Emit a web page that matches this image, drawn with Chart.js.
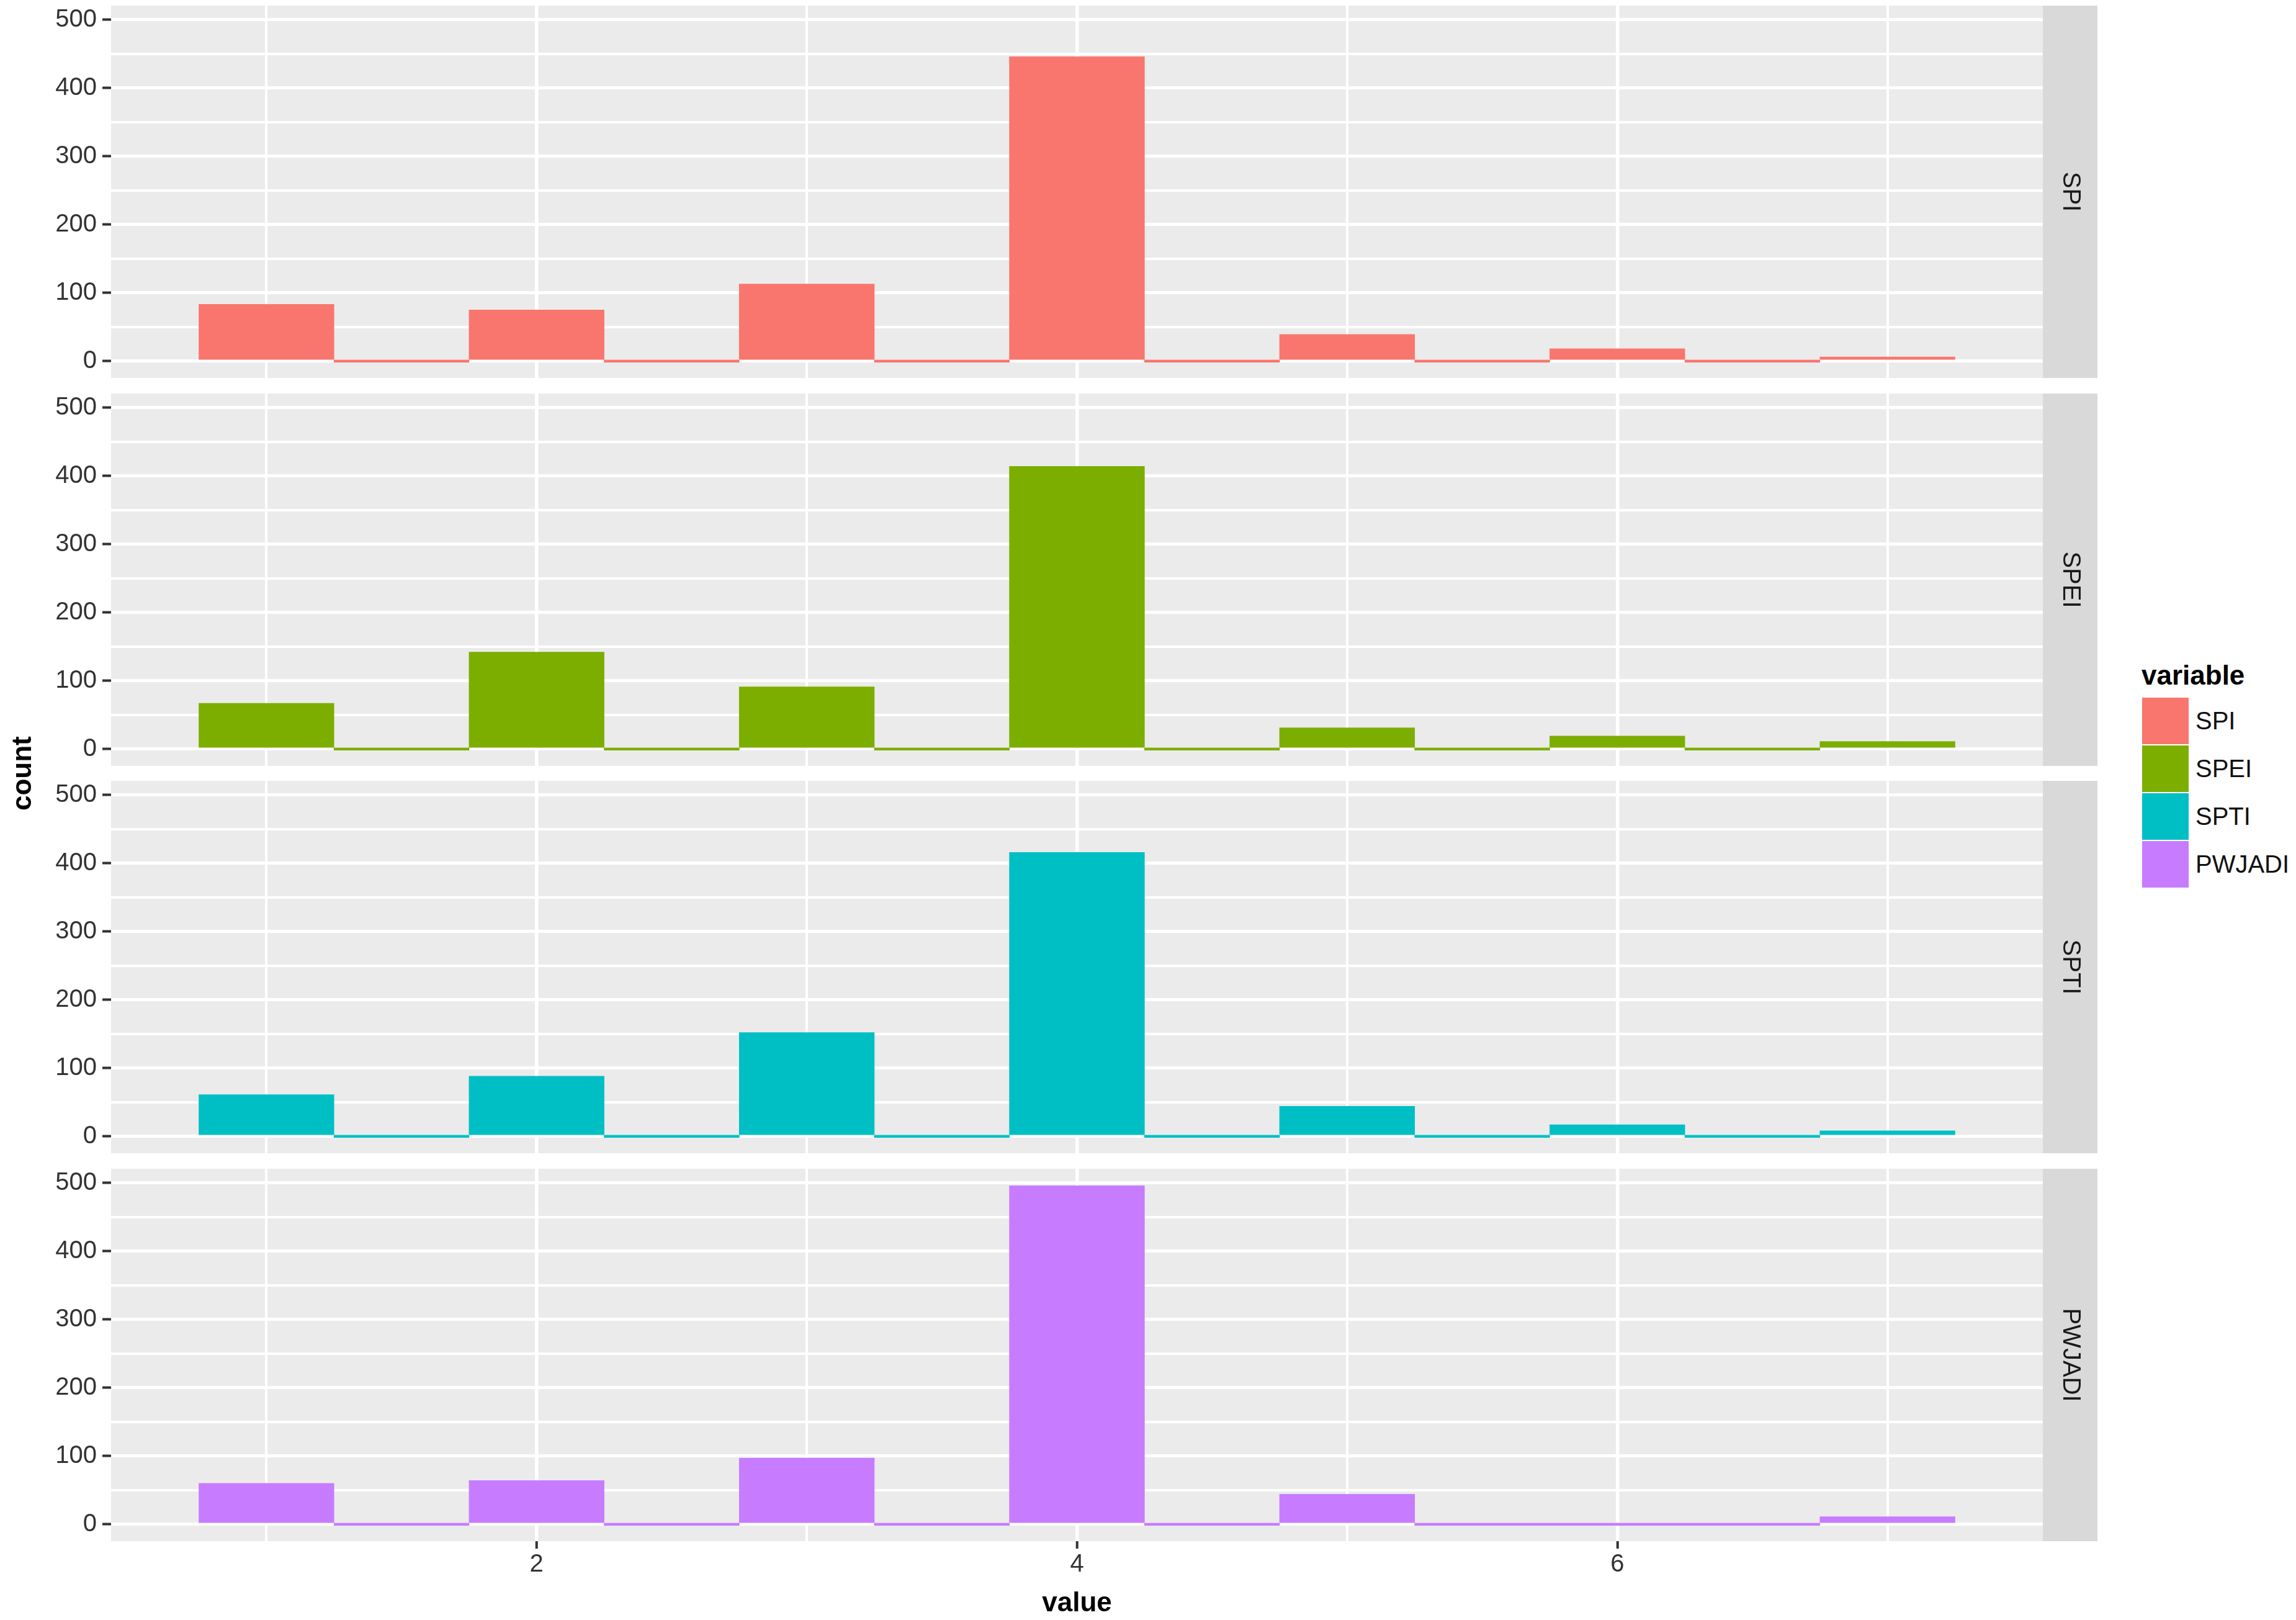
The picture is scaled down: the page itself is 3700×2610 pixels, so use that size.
<!DOCTYPE html>
<html>
<head>
<meta charset="utf-8">
<script src="https://cdn.jsdelivr.net/npm/chart.js@4.4.1/dist/chart.umd.min.js"></script>
<style>
  html, body { margin: 0; padding: 0; background: #ffffff; }
  body { width: 3700px; height: 2610px; position: relative; overflow: hidden;
         font-family: "Liberation Sans", Arial, sans-serif; }
  .panel { position: absolute; left: 0; }
  .ytitle { position: absolute; left: 35px; top: 1246px; transform: translate(-50%, -50%) rotate(-90deg);
            font-size: 44px; font-weight: bold; color: #000; white-space: nowrap; }
  .legend-title { position: absolute; left: 3451px; top: 1062px; font-size: 44px; font-weight: bold; color: #000; line-height: 52px; }
  .key { position: absolute; left: 3452px; width: 75px; height: 75px; }
  .key-label { position: absolute; left: 3538px; font-size: 40px; color: #111; line-height: 75px; height: 75px; white-space: nowrap; }
</style>
</head>
<body>
<div id="root"></div>
<div class="ytitle">count</div>
<script>
// ---------------- data ----------------
const binCenters = [1, 1.5, 2, 2.5, 3, 3.5, 4, 4.5, 5, 5.5, 6, 6.5, 7];
const variables = ['SPI', 'SPEI', 'SPTI', 'PWJADI'];
const SPI    = [83, 0,  75, 0, 113, 0, 446, 0, 39, 0, 18, 0,  6];
const SPEI   = [67, 0, 142, 0,  91, 0, 414, 0, 31, 0, 19, 0, 11];
const SPTI   = [61, 0,  88, 0, 152, 0, 416, 0, 44, 0, 17, 0,  8];
const PWJADI = [60, 0,  64, 0,  97, 0, 496, 0, 44, 0,  0, 0, 11];
const seriesValues = [SPI, SPEI, SPTI, PWJADI];
const colors = ['#F8766D', '#7CAE00', '#00BFC4', '#C77CFF'];
const xGridValues = [1, 2, 3, 4, 5, 6, 7];
const xTickLabels = ['2', '4', '6'];
const yGridValues = [0, 50, 100, 150, 200, 250, 300, 350, 400, 450, 500];
const yTickLabels = ['0', '100', '200', '300', '400', '500'];
const xTitle = 'value';
const legendTitle = 'variable';

// ---------------- layout ----------------
const FONT = '"Liberation Sans", Arial, sans-serif';
const PLOT_LEFT = 179, PLOT_RIGHT = 3292, STRIP_W = 88, CANVAS_W = 3400;
const PANEL_TOPS = [9, 634, 1258, 1883], PANEL_H = 600, PAD = 10;
const X_MIN = 0.425, X_MAX = 7.575;
const Y_MAX_DATA = Math.max(...seriesValues.flat());
const Y_MIN = -0.05 * Y_MAX_DATA, Y_MAX = 1.05 * Y_MAX_DATA;

const panelPlugin = {
  id: 'facet',
  beforeDraw(chart, args, opts) {
    const { ctx, chartArea: a } = chart;
    ctx.save();
    ctx.fillStyle = '#EBEBEB';
    ctx.fillRect(a.left, a.top, a.right - a.left, a.bottom - a.top);
    ctx.fillStyle = '#D9D9D9';
    ctx.fillRect(a.right, a.top, STRIP_W, a.bottom - a.top);
    ctx.translate(a.right + STRIP_W / 2, (a.top + a.bottom) / 2);
    ctx.rotate(Math.PI / 2);
    ctx.fillStyle = '#1a1a1a';
    ctx.font = '40px ' + FONT;
    ctx.textAlign = 'center';
    ctx.textBaseline = 'middle';
    ctx.fillText(opts.label, 0, 0);
    ctx.restore();
  }
};

const root = document.getElementById('root');
variables.forEach((name, i) => {
  const isLast = i === variables.length - 1;
  const top = PANEL_TOPS[i] - PAD;
  const height = isLast ? 2610 - top : PANEL_H + 2 * PAD;
  const bottomAxisH = isLast ? height - PAD - PANEL_H : 0;
  const div = document.createElement('div');
  div.className = 'panel';
  div.style.top = top + 'px';
  div.style.width = CANVAS_W + 'px';
  div.style.height = height + 'px';
  const canvas = document.createElement('canvas');
  canvas.width = CANVAS_W; canvas.height = height;
  canvas.style.width = CANVAS_W + 'px'; canvas.style.height = height + 'px';
  div.appendChild(canvas);
  root.appendChild(div);

  new Chart(canvas, {
    type: 'bar',
    data: {
      datasets: [{
        label: name,
        data: binCenters.map((x, j) => ({ x: x, y: seriesValues[i][j] })),
        backgroundColor: colors[i],
        borderWidth: 0,
        barPercentage: 1,
        categoryPercentage: 1,
        minBarLength: 4
      }]
    },
    plugins: [panelPlugin],
    options: {
      responsive: false,
      animation: false,
      devicePixelRatio: 1,
      layout: { padding: { left: 0, right: CANVAS_W - PLOT_RIGHT, top: PAD, bottom: isLast ? 0 : PAD } },
      plugins: {
        legend: { display: false },
        tooltip: { enabled: false },
        facet: { label: name }
      },
      scales: {
        x: {
          type: 'linear',
          min: X_MIN, max: X_MAX,
          offset: false,
          border: { display: false },
          afterBuildTicks: (s) => { s.ticks = xGridValues.map(v => ({ value: v })); },
          afterFit: (s) => { s.height = bottomAxisH; s.paddingLeft = 0; s.paddingRight = 0; },
          grid: {
            offset: false,
            color: '#FFFFFF',
            lineWidth: (c) => (c.tick && c.tick.value % 2 === 0) ? 5.5 : 4,
            drawTicks: isLast,
            tickLength: 12,
            tickWidth: 4,
            tickColor: (c) => (c.tick && c.tick.value % 2 === 0) ? '#333333' : 'rgba(0,0,0,0)'
          },
          ticks: {
            display: isLast,
            autoSkip: false,
            maxRotation: 0,
            minRotation: 0,
            padding: 2,
            color: '#333333',
            font: { family: FONT, size: 40 },
            callback: (v) => { const s = String(v); return xTickLabels.includes(s) ? s : ''; }
          },
          title: {
            display: isLast,
            text: xTitle,
            color: '#000000',
            font: { family: FONT, size: 44, weight: 'bold' },
            padding: { top: 0, bottom: 0 }
          }
        },
        y: {
          type: 'linear',
          min: Y_MIN, max: Y_MAX,
          border: { display: false },
          afterBuildTicks: (s) => { s.ticks = yGridValues.map(v => ({ value: v })); },
          afterFit: (s) => { s.width = PLOT_LEFT; s.paddingTop = 0; s.paddingBottom = 0; },
          grid: {
            offset: false,
            color: '#FFFFFF',
            lineWidth: (c) => (c.tick && c.tick.value % 100 === 0) ? 5 : 4,
            drawTicks: true,
            tickLength: 14,
            tickWidth: 4,
            tickColor: (c) => (c.tick && c.tick.value % 100 === 0) ? '#333333' : 'rgba(0,0,0,0)'
          },
          ticks: {
            autoSkip: false,
            padding: 9,
            color: '#333333',
            font: { family: FONT, size: 40 },
            callback: (v) => { const s = String(v); return yTickLabels.includes(s) ? s : ''; }
          }
        }
      }
    }
  });
});

// ---------------- legend ----------------
const lt = document.createElement('div');
lt.className = 'legend-title';
lt.textContent = legendTitle;
document.body.appendChild(lt);
const KEY_TOPS = [1124, 1201, 1278, 1355];
variables.forEach((name, i) => {
  const k = document.createElement('div');
  k.className = 'key';
  k.style.top = KEY_TOPS[i] + 'px';
  k.style.background = colors[i];
  document.body.appendChild(k);
  const l = document.createElement('div');
  l.className = 'key-label';
  l.style.top = KEY_TOPS[i] + 'px';
  l.textContent = name;
  document.body.appendChild(l);
});
</script>
</body>
</html>
